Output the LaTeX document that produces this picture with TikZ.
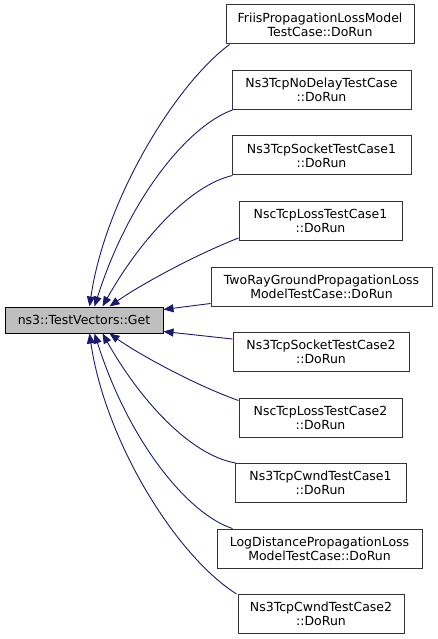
\documentclass[tikz,border=0pt]{standalone}
\usepackage{fontspec}
\setmainfont{DejaVu Sans}
\usetikzlibrary{arrows.meta}
\definecolor{edgec}{HTML}{191970}
\definecolor{boxgray}{HTML}{BFBFBF}
\begin{document}
\begin{tikzpicture}[x=1pt,y=-1pt,
  box/.style={draw=black!80, line width=1pt, fill=white, inner sep=0pt, minimum height=39pt, align=center, font=\fontsize{12.5}{14}\selectfont},
  mainbox/.style={draw=black, fill=boxgray, line width=1pt, inner sep=0pt, minimum width=158pt, minimum height=26pt, font=\fontsize{12.5}{14}\selectfont},
  edge/.style={draw=edgec, line width=0.9pt, -{Triangle[length=10pt,width=8pt]}}]
\useasboundingbox (0,0) rectangle (437,639);
\node[mainbox] (m) at (84,320) {ns3::TestVectors::Get};
\node[box,minimum width=188pt] (a) at (320,24.5) {FriisPropagationLossModel\\TestCase::DoRun};
\node[box,minimum width=179pt] (b) at (321.5,90) {Ns3TcpNoDelayTestCase\\::DoRun};
\node[box,minimum width=179pt] (c) at (321.5,155.5) {Ns3TcpSocketTestCase1\\::DoRun};
\node[box,minimum width=163pt] (d) at (320.5,221) {NscTcpLossTestCase1\\::DoRun};
\node[box,minimum width=221pt] (e) at (321.5,286.5) {TwoRayGroundPropagationLoss\\ModelTestCase::DoRun};
\node[box,minimum width=176pt] (f) at (321,352) {Ns3TcpSocketTestCase2\\::DoRun};
\node[box,minimum width=163pt] (g) at (320.5,417.5) {NscTcpLossTestCase2\\::DoRun};
\node[box,minimum width=171pt] (h) at (320.5,483) {Ns3TcpCwndTestCase1\\::DoRun};
\node[box,minimum width=205pt] (i) at (319.5,548.5) {LogDistancePropagationLoss\\ModelTestCase::DoRun};
\node[box,minimum width=166pt] (j) at (321,614) {Ns3TcpCwndTestCase2\\::DoRun};
% tips
\coordinate (ta) at ([xshift=85pt]m.north west);
\coordinate (tb) at ([xshift=90pt]m.north west);
\coordinate (tc) at ([xshift=98pt]m.north west);
\coordinate (td) at ([xshift=105pt]m.north west);
\coordinate (te) at ([yshift=-3pt]m.north east);
\coordinate (tf) at ([yshift=2pt]m.south east);
\coordinate (tg) at ([xshift=105pt]m.south west);
\coordinate (th) at ([xshift=98pt]m.south west);
\coordinate (ti) at ([xshift=90pt]m.south west);
\coordinate (tj) at ([xshift=85pt]m.south west);
\path[edge] ([xshift=4pt]a.south west) .. controls (175,85) and (105,200) .. (ta);
\path[edge] ([xshift=1pt]b.south west) .. controls (190,125) and (130,195) .. (tb);
\path[edge] ([xshift=1pt]c.south west) .. controls (190,185) and (140,240) .. (tc);
\path[edge] ([yshift=3pt]d.south west) .. controls (195,255) and (140,285) .. (td);
\path[edge] ([yshift=3pt]e.south west) -- (te);
\path[edge] ([yshift=-7pt]f.north west) -- (tf);
\path[edge] ([yshift=-3pt]g.north west) .. controls (195,385) and (140,355) .. (tg);
\path[edge] ([xshift=1pt]h.north west) .. controls (190,455) and (140,400) .. (th);
\path[edge] ([xshift=16pt]i.north west) .. controls (190,515) and (130,445) .. (ti);
\path[edge] ([xshift=-1pt]j.north west) .. controls (175,555) and (105,440) .. (tj);
\end{tikzpicture}
\end{document}
